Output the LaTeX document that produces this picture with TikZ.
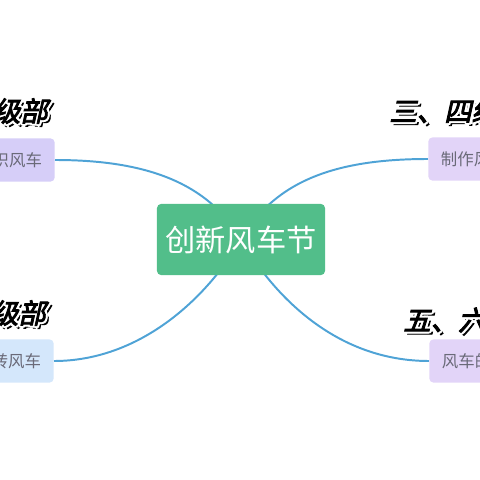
\documentclass[tikz,border=0pt]{standalone}
\usepackage{fontspec}
\usepackage{tikz}
\usetikzlibrary{positioning}
\usetikzlibrary{calc}
\usetikzlibrary{backgrounds}
\newfontfamily\cjk{Noto Sans CJK SC}
\newfontfamily\cjkhead[FakeBold=3.2,FakeSlant=0.22]{Noto Sans CJK SC}
\definecolor{rootgreen}{HTML}{52BE8A}
\definecolor{linkblue}{HTML}{4FA3D6}
\definecolor{leafgray}{HTML}{6A6A78}
\definecolor{lilacone}{HTML}{D6CEF8}
\definecolor{lilactwo}{HTML}{E2D4F8}
\definecolor{skyone}{HTML}{D4E7FB}
% title with white rim and black drop shadow
\newcommand{\grouptitle}[4]{
\node[titletext, text=black, anchor=#2] (#1-shadow) at ($(#3)+(3,3)$) {#4};
\foreach \dx/\dy [count=\k] in {-1.6/-1.6, 1.6/-1.6, -1.6/1.6, 1.6/1.6, 0/2, 0/-2, 2/0, -2/0}
  \node[titletext, text=white, anchor=#2] (#1-rim\k) at ($(#3)+(\dx,\dy)$) {#4};
\node[titletext, text=black, anchor=#2] (#1) at (#3) {#4};
}

\begin{document}
\begin{tikzpicture}[x=0.025cm, y=-0.025cm,
  root/.style={fill=rootgreen, text=white, rounded corners=3pt,
    minimum width=4.2cm, minimum height=1.78cm, inner sep=0pt,
    font=\cjk\fontsize{21.5}{24}\selectfont},
  leaf/.style={rounded corners=3pt, text=leafgray, minimum height=1.08cm,
    inner xsep=9pt, inner ysep=0pt, font=\cjk\fontsize{11.7}{14}\selectfont},
  titletext/.style={inner sep=0pt, font=\cjkhead\fontsize{19.5}{22}\selectfont},
  link/.style={draw=linkblue, line width=1.4pt}]

\useasboundingbox (0,0) rectangle (480,480);
\clip (0,0) rectangle (480,480);

\node[root] (root) at (241,239.5) {创新风车节};

\node[leaf, fill=lilacone, anchor=east] (tl) at (55,160) {认识风车};
\node[leaf, fill=skyone, anchor=east] (bl) at (54,361) {玩转风车};
\node[leaf, fill=lilactwo, anchor=west] (tr) at (428,159) {制作风车};
\node[leaf, fill=lilactwo, anchor=west] (br) at (429,361) {风车的故事};

\grouptitle{tl-title}{east}{48,111}{一年级部}
\grouptitle{bl-title}{east}{46,313}{二年级部}
\grouptitle{tr-title}{west}{389,111}{三、四级部}
\grouptitle{br-title}{west}{403,320}{五、六级部}

\begin{pgfonlayer}{background}
\draw[link] (root.center) .. controls +(-35,-60) and +(85,0) .. (tl.east);
\draw[link] (root.center) .. controls +(-35,60) and +(85,0) .. (bl.east);
\draw[link] (root.center) .. controls +(35,-60) and +(-90,0) .. (tr.west);
\draw[link] (root.center) .. controls +(35,60) and +(-90,0) .. (br.west);
\end{pgfonlayer}
\end{tikzpicture}
\end{document}
